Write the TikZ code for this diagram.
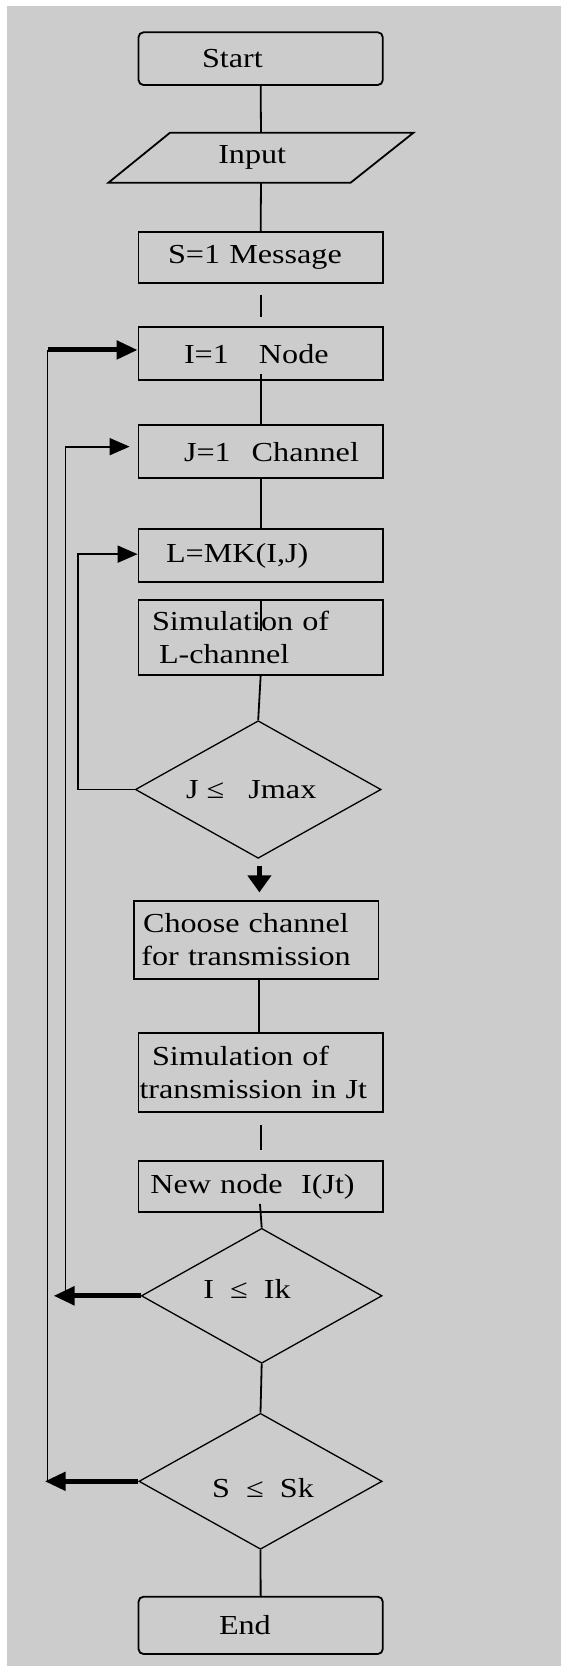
\documentclass[tikz,border=0pt]{standalone}
\usepackage{fontspec}
\setmainfont{Liberation Serif}[FakeStretch=1.17]
\usetikzlibrary{shapes.geometric,arrows.meta,calc}
\definecolor{bggray}{RGB}{204,204,204}
\newcommand{\fsz}{\fontsize{27.5pt}{33pt}\selectfont}
\begin{document}
\begin{tikzpicture}[x=1pt,y=-1pt,
  box/.style={draw, line width=1.8pt, inner xsep=0pt, inner ysep=0pt,
    text width=244.3pt, align=left, minimum height=#1, font=\fsz},
  rbox/.style={box=#1, rounded corners=5pt},
  dia/.style={diamond, draw, line width=1.3pt, inner sep=0pt},
  conn/.style={line width=1.8pt},
  thk/.style={line width=5pt},
  tipH/.tip={Triangle[length=21pt,width=18pt]},
  tipT/.tip={Triangle[length=20pt,width=17pt]},
  tipV/.tip={Triangle[length=17pt,width=23pt]}
]
\useasboundingbox (0,0) rectangle (561,1666);
\fill[white] (0,0) rectangle (561,1666);
\fill[bggray] (7,6) rectangle (561,1666);

% boxes
\node[rbox=52.7pt] (start) at (260.65,58.65) {\hspace*{63.5pt}Start};
\node[draw=none, inner xsep=0pt, inner ysep=0pt, text width=305.1pt, align=left,
      minimum height=50pt, font=\fsz] (input) at (261,157.7) {\hspace*{109.8pt}Input};
\draw[conn] (170,132.7) -- (413.5,132.7) -- (350.6,182.7) -- (108.4,182.7) -- cycle;
\node[box=51pt] (msg) at (260.65,257.8) {\hspace*{29.5pt}S=1 Message};
\node[box=52.7pt] (node1) at (260.65,353.65) {\hspace*{45.5pt}I=1\hspace{30pt}Node};
\node[box=53.3pt] (chan) at (260.65,451.65) {\hspace*{45.5pt}J=1\hspace{21pt}Channel};
\node[box=53.3pt] (lmk) at (260.65,555.65) {\hspace*{27.5pt}L=MK(I,J)};
\node[box=75pt] (sim1) at (260.65,637.5) {\hspace*{13.5pt}Simulation of\\\hspace*{20.5pt}L-channel};
\node[dia, minimum width=245.7pt, minimum height=137.6pt,
      label={[font=\fsz, xshift=-7pt]center:J ≤~~~Jmax}] (d1) at (258.2,789.5) {};
\node[box=78.3pt] (choose) at (256.4,939.85) {\hspace*{8.8pt}Choose channel\\\hspace*{7.1pt}for~transmission};
\node[box=79pt] (sim2) at (260.65,1072.8) {\hspace*{13.5pt}Simulation of\\\hspace*{1pt}transmission~in~Jt};
\node[box=51.3pt] (newn) at (260.65,1186.65) {\hspace*{11.8pt}New~node~~I(Jt)};
\node[dia, minimum width=240.7pt, minimum height=135pt,
      label={[font=\fsz, xshift=-14.7pt, yshift=6.5pt]center:I~~≤~~Ik}] (d2) at (261.7,1295.8) {};
\node[dia, minimum width=243.2pt, minimum height=136pt,
      label={[font=\fsz, xshift=2.5pt, yshift=-7pt]center:S~~≤~~Sk}] (d3) at (260.5,1481.3) {};
\node[rbox=57.3pt] (endn) at (260.65,1625.35) {\hspace*{80.5pt}End};

% main flow
\draw[conn] (start.south) -- (input.north);
\draw[conn] (input.south) -- (msg.north);
\draw[conn, shorten <=10.7pt, shorten >=9pt] (msg.south) -- (node1.north);
\draw[conn, shorten <=-6.7pt] (node1.south) -- (chan.north);
\draw[conn] (chan.south) -- (lmk.north);
\draw[conn] (sim1.north) -- ([yshift=-32pt]sim1.north);
\draw[conn] (sim1.south) -- (d1.north);
\draw[thk, -{tipV}, shorten <=6.7pt, shorten >=7.4pt] ([xshift=1.2pt]d1.south) -- ([xshift=1.2pt]d1.south |- choose.north);
\draw[conn] ([xshift=2.3pt]choose.south) -- ([xshift=2.3pt]choose.south |- sim2.north);
\draw[conn, shorten <=11.7pt, shorten >=10.3pt] (sim2.south) -- (newn.north);
\draw[conn, shorten <=-9.3pt] (newn.south) -- (d2.north);
\draw[conn] (d2.south) -- (d3.north);
\draw[conn] (d3.south) -- (endn.north);

% loop coordinates
\coordinate (xa) at (78,0);
\coordinate (xb) at (65.5,0);
\coordinate (xbt) at (53.5,0);
\coordinate (xc) at (47.5,0);
\coordinate (xct) at (44.7,0);

% inner loop J
\draw[conn, -{tipT}] (d1.west) -- (d1.west -| xa) |- ([yshift=1.5pt]lmk.west);
% loop I
\draw[thk, -{tipH}] (d2.west) -- (d2.west -| xbt);
\draw[conn, -{tipT}, shorten >=8pt] (d2.west -| xb) |- ([yshift=5pt]chan.west);
% loop S
\draw[thk, -{tipH}] (d3.west) -- (d3.west -| xct);
\draw[conn] (d3.west -| xc) -- ([yshift=3.7pt]node1.west -| xc);
\draw[thk, -{tipH}] ([yshift=3.7pt]node1.west -| xc) -- ([yshift=3.7pt]node1.west);
\end{tikzpicture}
\end{document}
